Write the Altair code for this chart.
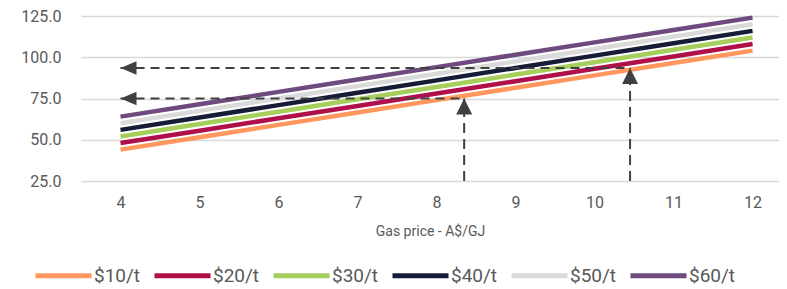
import altair as alt
import pandas as pd

# ---- data ----
gas_price = [4, 5, 6, 7, 8, 9, 10, 11, 12]
series_names = ["$10/t", "$20/t", "$30/t", "$40/t", "$50/t", "$60/t"]
cost_10 = [44.0, 51.5, 59.0, 66.5, 74.0, 81.5, 89.0, 96.5, 104.0]
cost_20 = [48.0, 55.5, 63.0, 70.5, 78.0, 85.5, 93.0, 100.5, 108.0]
cost_30 = [52.0, 59.5, 67.0, 74.5, 82.0, 89.5, 97.0, 104.5, 112.0]
cost_40 = [56.0, 63.5, 71.0, 78.5, 86.0, 93.5, 101.0, 108.5, 116.0]
cost_50 = [60.0, 67.5, 75.0, 82.5, 90.0, 97.5, 105.0, 112.5, 120.0]
cost_60 = [64.0, 71.5, 79.0, 86.5, 94.0, 101.5, 109.0, 116.5, 124.0]
series_colors = ["#FF975E", "#B0104A", "#A5CE5A", "#161C36", "#DADADA", "#6E4A7E"]

# dashed read-off arrows
arrow_gas = [8.35, 10.45]
arrow_cost = [75.0, 93.5]
arrow_from_cost = [25.0, 25.0]
arrow_to_gas = [4.0, 4.0]

y_ticks = [25, 50, 75, 100, 125]

FONT = "Roboto"
TEXT = "#595959"

all_costs = [cost_10, cost_20, cost_30, cost_40, cost_50, cost_60]
rows = []
for name, vals in zip(series_names, all_costs):
    for g, v in zip(gas_price, vals):
        rows.append({"gas": g, "cost": v, "series": name})
lines_df = pd.DataFrame(rows)

arrows_df = pd.DataFrame({
    "gas": arrow_gas,
    "cost": arrow_cost,
    "base": arrow_from_cost,
    "left": arrow_to_gas,
})

x_scale = alt.Scale(domain=[3.5, 12.335], nice=False, zero=False)
y_scale = alt.Scale(domain=[25, 125], nice=False, zero=False)

lines = alt.Chart(lines_df).mark_line(strokeWidth=4.5).encode(
    x=alt.X("gas:Q", scale=x_scale,
            axis=alt.Axis(values=gas_price, title="Gas price - A$/GJ", grid=False,
                          domain=False, ticks=False, tickSize=0, labelPadding=13,
                          titlePadding=14, format="d")),
    y=alt.Y("cost:Q", scale=y_scale,
            axis=alt.Axis(values=y_ticks, title=None, format=".1f", domain=False,
                          ticks=False, tickSize=0, labelPadding=20,
                          gridColor="#D9D9D9", gridWidth=1.3)),
    color=alt.Color("series:N",
                    scale=alt.Scale(domain=series_names, range=series_colors),
                    legend=alt.Legend(title=None, orient="none", direction="horizontal",
                                      legendX=-28, legendY=249,
                                      symbolType="M-3.5,0L3.5,0", symbolSize=256,
                                      symbolStrokeWidth=5, labelFontSize=19,
                                      labelFont=FONT, labelColor=TEXT,
                                      labelOffset=20, columnPadding=3, padding=0)),
    detail="series:N",
)

vrules = alt.Chart(arrows_df).mark_rule(
    color="#404040", strokeWidth=2, strokeDash=[10, 6]
).encode(x="gas:Q", y="base:Q", y2="cost:Q")

hrules = alt.Chart(arrows_df).mark_rule(
    color="#404040", strokeWidth=2, strokeDash=[9, 6]
).encode(y="cost:Q", x="left:Q", x2="gas:Q")

up_heads = alt.Chart(arrows_df).mark_point(
    shape="M0,0L-1,2L1,2Z", filled=True, size=256, color="#404040", opacity=1
).encode(x="gas:Q", y="cost:Q")

left_heads = alt.Chart(arrows_df).mark_point(
    shape="M0,0L2,-0.85L2,0.85Z", filled=True, size=256, color="#404040", opacity=1
).encode(x="left:Q", y="cost:Q")

chart = alt.layer(lines, vrules, hrules, up_heads, left_heads).properties(
    width=698, height=165,
    padding={"left": 12, "top": 0, "right": 0, "bottom": 0},
).configure_view(stroke=None).configure_axis(
    labelFont=FONT, labelFontSize=16, labelColor=TEXT,
    titleFont=FONT, titleFontSize=14, titleColor=TEXT, titleFontWeight="normal",
)

chart.save("out.html", embed_options={"renderer": "svg", "actions": False})
